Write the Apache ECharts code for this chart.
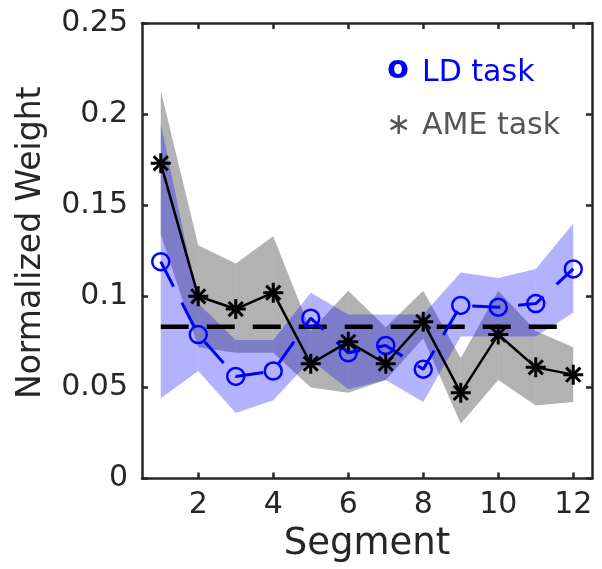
<!DOCTYPE html>
<html><head><meta charset="utf-8">
<script src="https://cdn.jsdelivr.net/npm/echarts@6/dist/echarts.min.js"></script>
<style>html,body{margin:0;padding:0;background:#fff}#c{width:602px;height:569px}</style>
</head><body><div id="c"></div>
<script>
// ---- data ----
const segments = [1, 2, 3, 4, 5, 6, 7, 8, 9, 10, 11, 12];
const ldMean   = [0.119, 0.079, 0.056, 0.059, 0.088, 0.069, 0.073, 0.060, 0.095, 0.094, 0.096, 0.115];
const ldUpper  = [0.195, 0.096, 0.076, 0.076, 0.102, 0.090, 0.090, 0.090, 0.113, 0.110, 0.115, 0.140];
const ldLower  = [0.044, 0.059, 0.036, 0.043, 0.065, 0.049, 0.054, 0.042, 0.078, 0.078, 0.078, 0.091];
const ameMean  = [0.173, 0.100, 0.093, 0.102, 0.063, 0.075, 0.063, 0.086, 0.047, 0.079, 0.061, 0.057];
const ameUpper = [0.213, 0.128, 0.118, 0.133, 0.081, 0.103, 0.083, 0.103, 0.066, 0.103, 0.081, 0.072];
const ameLower = [0.134, 0.072, 0.069, 0.069, 0.050, 0.047, 0.054, 0.077, 0.030, 0.054, 0.040, 0.042];
const chanceLevel = 1 / 12;
const chanceRange = [1, 12];
const xTicks = [2, 4, 6, 8, 10, 12];
const yTickStep = 0.05;
const legendLabels = ['LD task', 'AME task'];
const legendMarks = ['o', '\u2217'];

const FONT = 'DejaVu Sans';
const AXC = '#262626';
const pairs = (xs, ys) => xs.map((x, i) => [x, ys[i]]);

const asterisk = 'path://M0,-10L0,10M-10,0L10,0M-7.07,-7.07L7.07,7.07M-7.07,7.07L7.07,-7.07';

// band between lower/upper, drawn as one quad per segment interval
function band(name, lower, upper, color, z) {
  const rows = [];
  for (let i = 0; i < segments.length - 1; i++) {
    rows.push([segments[i], lower[i], upper[i], segments[i + 1], lower[i + 1], upper[i + 1]]);
  }
  return {
    name: name, type: 'custom', data: rows, silent: true, z: z,
    encode: { x: [0, 3], y: [1, 2, 4, 5] },
    renderItem: function (params, api) {
      const a = api.coord([api.value(0), api.value(1)]);
      const b = api.coord([api.value(0), api.value(2)]);
      const c = api.coord([api.value(3), api.value(5)]);
      const d = api.coord([api.value(3), api.value(4)]);
      return { type: 'polygon', shape: { points: [a, b, c, d] }, style: { fill: color, stroke: null } };
    }
  };
}

const chart = echarts.init(document.getElementById('c'), null, { renderer: 'canvas' });
const axisLine = { show: true, onZero: false, lineStyle: { color: AXC, width: 2.5 } };
const tickStyle = { color: AXC, width: 2.5 };

chart.setOption({
  animation: false,
  backgroundColor: '#fff',
  textStyle: { fontFamily: FONT },
  grid: { left: 142, right: 10, top: 23, bottom: 90.5, containLabel: false, outerBoundsMode: 'none' },
  xAxis: [
    { type: 'value', min: 0.5, max: 12.5, position: 'bottom',
      axisLine: axisLine,
      axisTick: { show: true, inside: true, length: 6, customValues: xTicks, lineStyle: tickStyle },
      axisLabel: { show: true, customValues: xTicks, fontSize: 30, color: AXC, margin: 12, fontFamily: FONT },
      splitLine: { show: false },
      name: 'Segment', nameLocation: 'middle', nameGap: 45,
      nameTextStyle: { fontSize: 37, color: AXC, fontFamily: FONT } },
    { type: 'value', min: 0.5, max: 12.5, position: 'top',
      axisLine: axisLine,
      axisTick: { show: true, inside: true, length: 6, customValues: xTicks, lineStyle: tickStyle },
      axisLabel: { show: false }, splitLine: { show: false } }
  ],
  yAxis: [
    { type: 'value', min: 0, max: 0.25, interval: yTickStep, position: 'left',
      axisLine: axisLine,
      axisTick: { show: true, inside: true, length: 6, lineStyle: tickStyle },
      axisLabel: { show: true, fontSize: 30, color: AXC, margin: 14, fontFamily: FONT,
                   showMinLabel: true, showMaxLabel: true },
      splitLine: { show: false },
      name: 'Normalized Weight', nameLocation: 'middle', nameGap: 94, nameRotate: 90,
      nameTextStyle: { fontSize: 33, color: AXC, fontFamily: FONT, padding: [0, 0, 0, 16] } },
    { type: 'value', min: 0, max: 0.25, interval: yTickStep, position: 'right',
      axisLine: axisLine,
      axisTick: { show: true, inside: true, length: 6, lineStyle: tickStyle },
      axisLabel: { show: false }, splitLine: { show: false } }
  ],
  series: [
    band('ame_band', ameLower, ameUpper, 'rgba(0,0,0,0.3)', 1),
    band('ld_band', ldLower, ldUpper, 'rgba(0,0,255,0.3)', 2),
    { name: 'chance', type: 'line', data: chanceRange.map(x => [x, chanceLevel]),
      symbol: 'none', silent: true, z: 3,
      lineStyle: { color: '#000', width: 4.5, type: [28, 18] } },
    { name: legendLabels[0], type: 'line', data: pairs(segments, ldMean), z: 4,
      symbol: 'circle', symbolSize: 17,
      itemStyle: { color: 'rgba(0,0,0,0)', borderColor: '#0000ff', borderWidth: 2.5 },
      lineStyle: { color: '#0000ff', width: 3, type: [28, 18] } },
    { name: legendLabels[1], type: 'line', data: pairs(segments, ameMean), z: 5,
      symbol: asterisk, symbolSize: 20,
      itemStyle: { color: 'rgba(0,0,0,0)', borderColor: '#000', borderWidth: 3 },
      lineStyle: { color: '#000', width: 2.5 } }
  ],
  graphic: [
    { type: 'text', x: 387, y: 70, style: { text: legendMarks[0], fill: '#0000ff',
      font: 'bold 32px "DejaVu Sans"', align: 'left', verticalAlign: 'middle' } },
    { type: 'text', x: 422, y: 73.5, style: { text: legendLabels[0], fill: '#0000ff',
      font: '30px "DejaVu Sans"', align: 'left', verticalAlign: 'middle' } },
    { type: 'text', x: 386, y: 126, style: { text: legendMarks[1], fill: '#555555',
      font: '30px "DejaVu Sans"', align: 'left', verticalAlign: 'middle' } },
    { type: 'text', x: 422, y: 126, style: { text: legendLabels[1], fill: '#555555',
      font: '30px "DejaVu Sans"', align: 'left', verticalAlign: 'middle' } }
  ]
});
</script></body></html>
